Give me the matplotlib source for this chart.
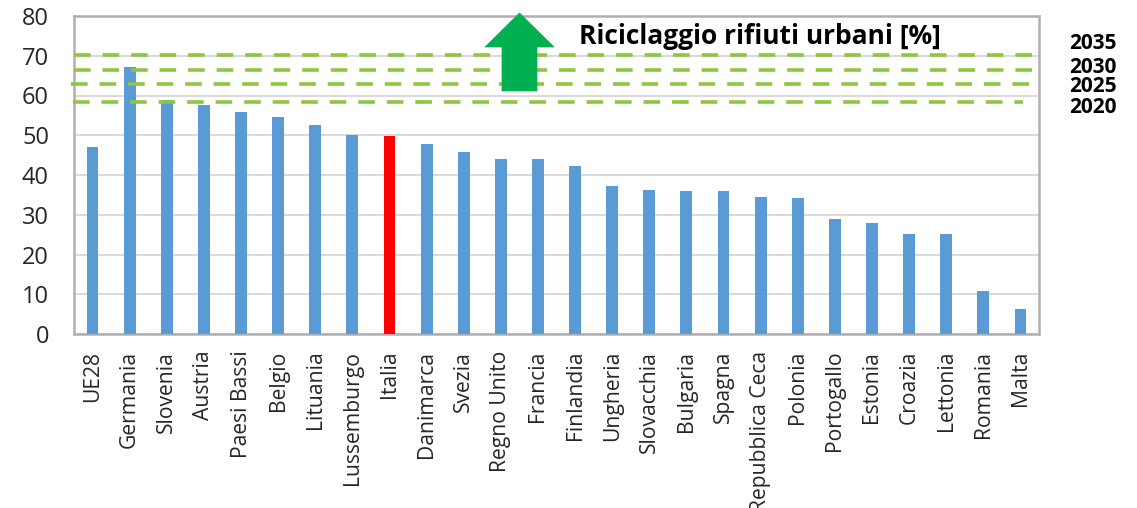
import matplotlib
matplotlib.use("Agg")
import matplotlib.pyplot as plt
from matplotlib.patches import Polygon

countries = ["UE28", "Germania", "Slovenia", "Austria", "Paesi Bassi", "Belgio",
             "Lituania", "Lussemburgo", "Italia", "Danimarca", "Svezia",
             "Regno Unito", "Francia", "Finlandia", "Ungheria", "Slovacchia",
             "Bulgaria", "Spagna", "Repubblica Ceca", "Polonia", "Portogallo",
             "Estonia", "Croazia", "Lettonia", "Romania", "Malta"]
values = [47.0, 67.2, 58.9, 57.7, 55.8, 54.5, 52.5, 50.1, 49.8, 47.9, 45.7,
          44.0, 43.9, 42.3, 37.3, 36.2, 35.9, 35.9, 34.4, 34.2, 28.9, 27.9,
          25.2, 25.1, 10.9, 6.3]
highlight = "Italia"
target_years = ["2035", "2030", "2025", "2020"]
target_levels = [70.2, 66.3, 62.8, 58.3]
title_text = "Riciclaggio rifiuti urbani [%]"

W, H = 1137, 508
fig = plt.figure(figsize=(W / 100, H / 100), dpi=100)
ax = fig.add_axes([74 / W, (H - 334) / H, 965 / W, 318 / H])

FONT = "Open Sans"
colors = ["#FF0000" if c == highlight else "#5B9BD5" for c in countries]
x = list(range(len(countries)))
ax.bar(x, values, width=0.32, color=colors, zorder=3)

ax.set_xlim(-0.5, len(countries) - 0.5)
ax.set_ylim(0, 80)
ax.set_yticks(range(0, 81, 10))
ax.set_xticks(x)
ax.set_xticklabels(countries, rotation=90, fontsize=15.2, family=FONT, color="#262626")
for lbl in ax.get_yticklabels():
    lbl.set_fontsize(17)
    lbl.set_family(FONT)
    lbl.set_color("#262626")
ax.tick_params(axis="y", length=0, pad=18)
ax.tick_params(axis="x", length=0, pad=12)
ax.grid(axis="y", color="#D9D9D9", linewidth=1.4, zorder=0)
ax.set_axisbelow(True)
for s in ax.spines.values():
    s.set_color("#B0B0B0")
    s.set_linewidth(1.8)

# target dashed lines
ends = [(-0.5, 25.58), (-0.5, 25.55), (-0.58, 25.5), (-0.52, 25.07)]
green = "#8DC63F"
for lvl, (x0, x1) in zip(target_levels, ends):
    ax.plot([x0, x1], [lvl, lvl], color=green, linewidth=2.6,
            linestyle=(0, (4.6, 3.3)), clip_on=False, zorder=4,
            solid_capstyle="butt", dash_capstyle="butt")

label_base = [49, 73, 92, 113]
for yr, py in zip(target_years, label_base):
    fig.text(1069 / W, 1 - py / H, yr, fontsize=15, fontweight="bold",
             family=FONT, color="black", ha="left", va="baseline")

# green arrow
def px(xp, yp):
    return ((xp - 74) / 965, (334 - yp) / 318)

arrow_pts = [px(519.5, 13), px(554, 47), px(537, 47), px(537, 91),
             px(502, 91), px(502, 47), px(485, 47)]
ax.add_patch(Polygon(arrow_pts, closed=True, transform=ax.transAxes,
                     facecolor="#00B050", edgecolor="#00B050", lw=0.5,
                     clip_on=False, zorder=5))

fig.text(579 / W, 1 - 44 / H, title_text, fontsize=19, fontweight="bold",
         family=FONT, color="black", ha="left", va="baseline")

fig.savefig("out.png", dpi=100, facecolor="white")
